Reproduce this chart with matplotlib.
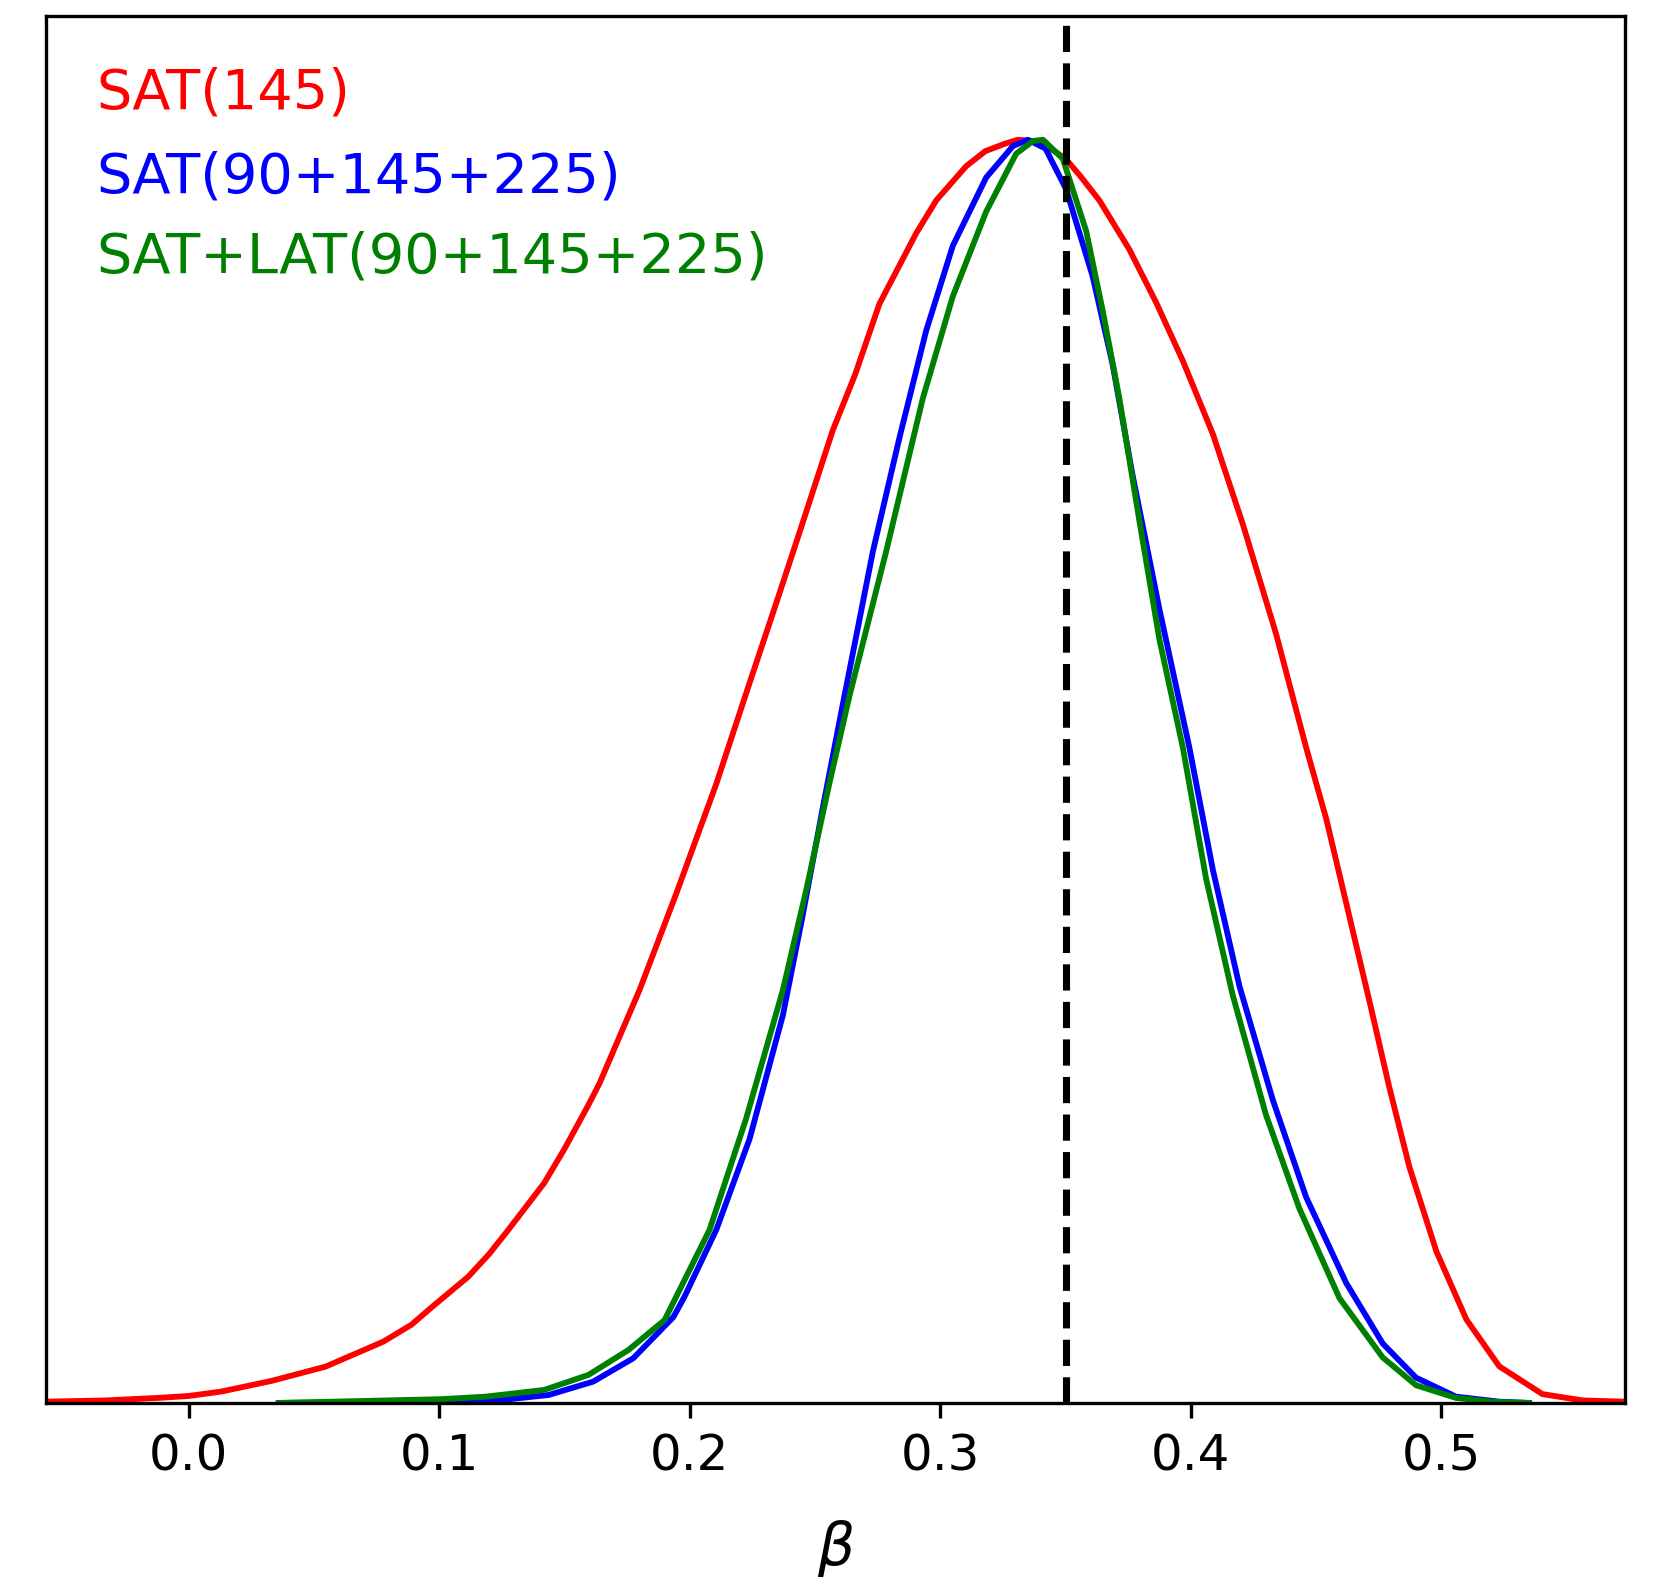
import matplotlib
matplotlib.use("Agg")
import matplotlib.pyplot as plt

# SAT(145)
red_x = [-0.057, -0.033, -0.012, 0.0, 0.013, 0.033, 0.0546, 0.0777, 0.089, 0.0973, 0.1116,
         0.120, 0.1276, 0.1419, 0.150, 0.1596, 0.1640, 0.1800, 0.1946, 0.2106, 0.2239, 0.2345,
         0.2438, 0.2571, 0.266, 0.2757, 0.2904, 0.2984, 0.3103, 0.318, 0.326, 0.331, 0.337,
         0.344, 0.350, 0.356, 0.3635, 0.3755, 0.3862, 0.3968, 0.4088, 0.4207, 0.4340, 0.4460,
         0.4541, 0.4633, 0.472, 0.4792, 0.4872, 0.4980, 0.5100, 0.5231, 0.5403, 0.5563, 0.573]
red_y = [0.001, 0.002, 0.004, 0.0055, 0.009, 0.0174, 0.0287, 0.0485, 0.062, 0.0762, 0.0999,
         0.118, 0.137, 0.174, 0.201, 0.236, 0.253, 0.327, 0.403, 0.490, 0.570, 0.633,
         0.689, 0.770, 0.814, 0.870, 0.926, 0.952, 0.979, 0.991, 0.997, 1.0, 0.999,
         0.993, 0.985, 0.971, 0.952, 0.913, 0.871, 0.825, 0.767, 0.696, 0.609, 0.519,
         0.462, 0.385, 0.312, 0.250, 0.187, 0.120, 0.066, 0.029, 0.007, 0.002, 0.001]

# SAT(90+145+225)
blue_x = [0.036, 0.099, 0.1187, 0.1437, 0.1615, 0.1775, 0.1935, 0.1979, 0.2106, 0.2239, 0.2372,
          0.2451, 0.2531, 0.2611, 0.2731, 0.2837, 0.2944, 0.3050, 0.3183, 0.329, 0.335, 0.342,
          0.3502, 0.3608, 0.3688, 0.3768, 0.3875, 0.3994, 0.4088, 0.4194, 0.4327, 0.4460,
          0.4620, 0.4766, 0.4899, 0.5058, 0.5231, 0.535]
blue_y = [0.0, 0.001, 0.001, 0.0063, 0.0169, 0.0354, 0.068, 0.084, 0.137, 0.209, 0.307,
          0.386, 0.471, 0.553, 0.674, 0.764, 0.849, 0.916, 0.970, 0.995, 1.0, 0.993,
          0.961, 0.892, 0.822, 0.734, 0.628, 0.519, 0.422, 0.330, 0.240, 0.163,
          0.095, 0.047, 0.020, 0.005, 0.001, 0.0]

# SAT+LAT(90+145+225)
green_x = [0.036, 0.1009, 0.1187, 0.1419, 0.1596, 0.1756, 0.1900, 0.1946, 0.2079, 0.2225,
           0.2372, 0.2465, 0.2558, 0.2638, 0.2784, 0.2930, 0.3050, 0.3183, 0.3303, 0.337,
           0.341, 0.3489, 0.3582, 0.3649, 0.3715, 0.3795, 0.3875, 0.3968, 0.4061, 0.4167,
           0.4300, 0.4433, 0.4593, 0.4766, 0.4899, 0.5058, 0.520, 0.535]
green_y = [0.0, 0.003, 0.005, 0.0103, 0.0222, 0.042, 0.0657, 0.084, 0.137, 0.225,
           0.327, 0.406, 0.491, 0.560, 0.674, 0.795, 0.876, 0.943, 0.989, 0.999,
           1.0, 0.985, 0.928, 0.864, 0.795, 0.698, 0.604, 0.519, 0.415, 0.323,
           0.228, 0.154, 0.083, 0.036, 0.014, 0.004, 0.001, 0.0]

labels = ["SAT(145)", "SAT(90+145+225)", "SAT+LAT(90+145+225)"]
colors = ["red", "blue", "green"]
fiducial = 0.35
xticks = [0.0, 0.1, 0.2, 0.3, 0.4, 0.5]

fig = plt.figure(figsize=(1655 / 300, 1579 / 300), dpi=300)
ax = fig.add_axes([0.0278, 0.1115, 0.9541, 0.8784])

for xs, ys, c in zip([red_x, blue_x, green_x], [red_y, blue_y, green_y], colors):
    ax.plot(xs, ys, color=c, lw=1.4)

ax.axvline(fiducial, color="black", ls="--", lw=1.7)

ax.set_xlim(-0.0569, 0.5733)
ax.set_ylim(0, 1.098)
ax.set_yticks([])
ax.set_xticks(xticks)
ax.set_xticklabels([f"{t:.1f}" for t in xticks])
ax.tick_params(axis="x", labelsize=12)
ax.set_xlabel(r"$\beta$", fontsize=14, labelpad=9)

ys_txt = [0.933, 0.873, 0.815]
for lab, c, yy in zip(labels, colors, ys_txt):
    ax.text(0.0316, yy, lab, color=c, fontsize=13.4, transform=ax.transAxes,
            va="baseline", ha="left")

fig.savefig("out.png", dpi=300)
